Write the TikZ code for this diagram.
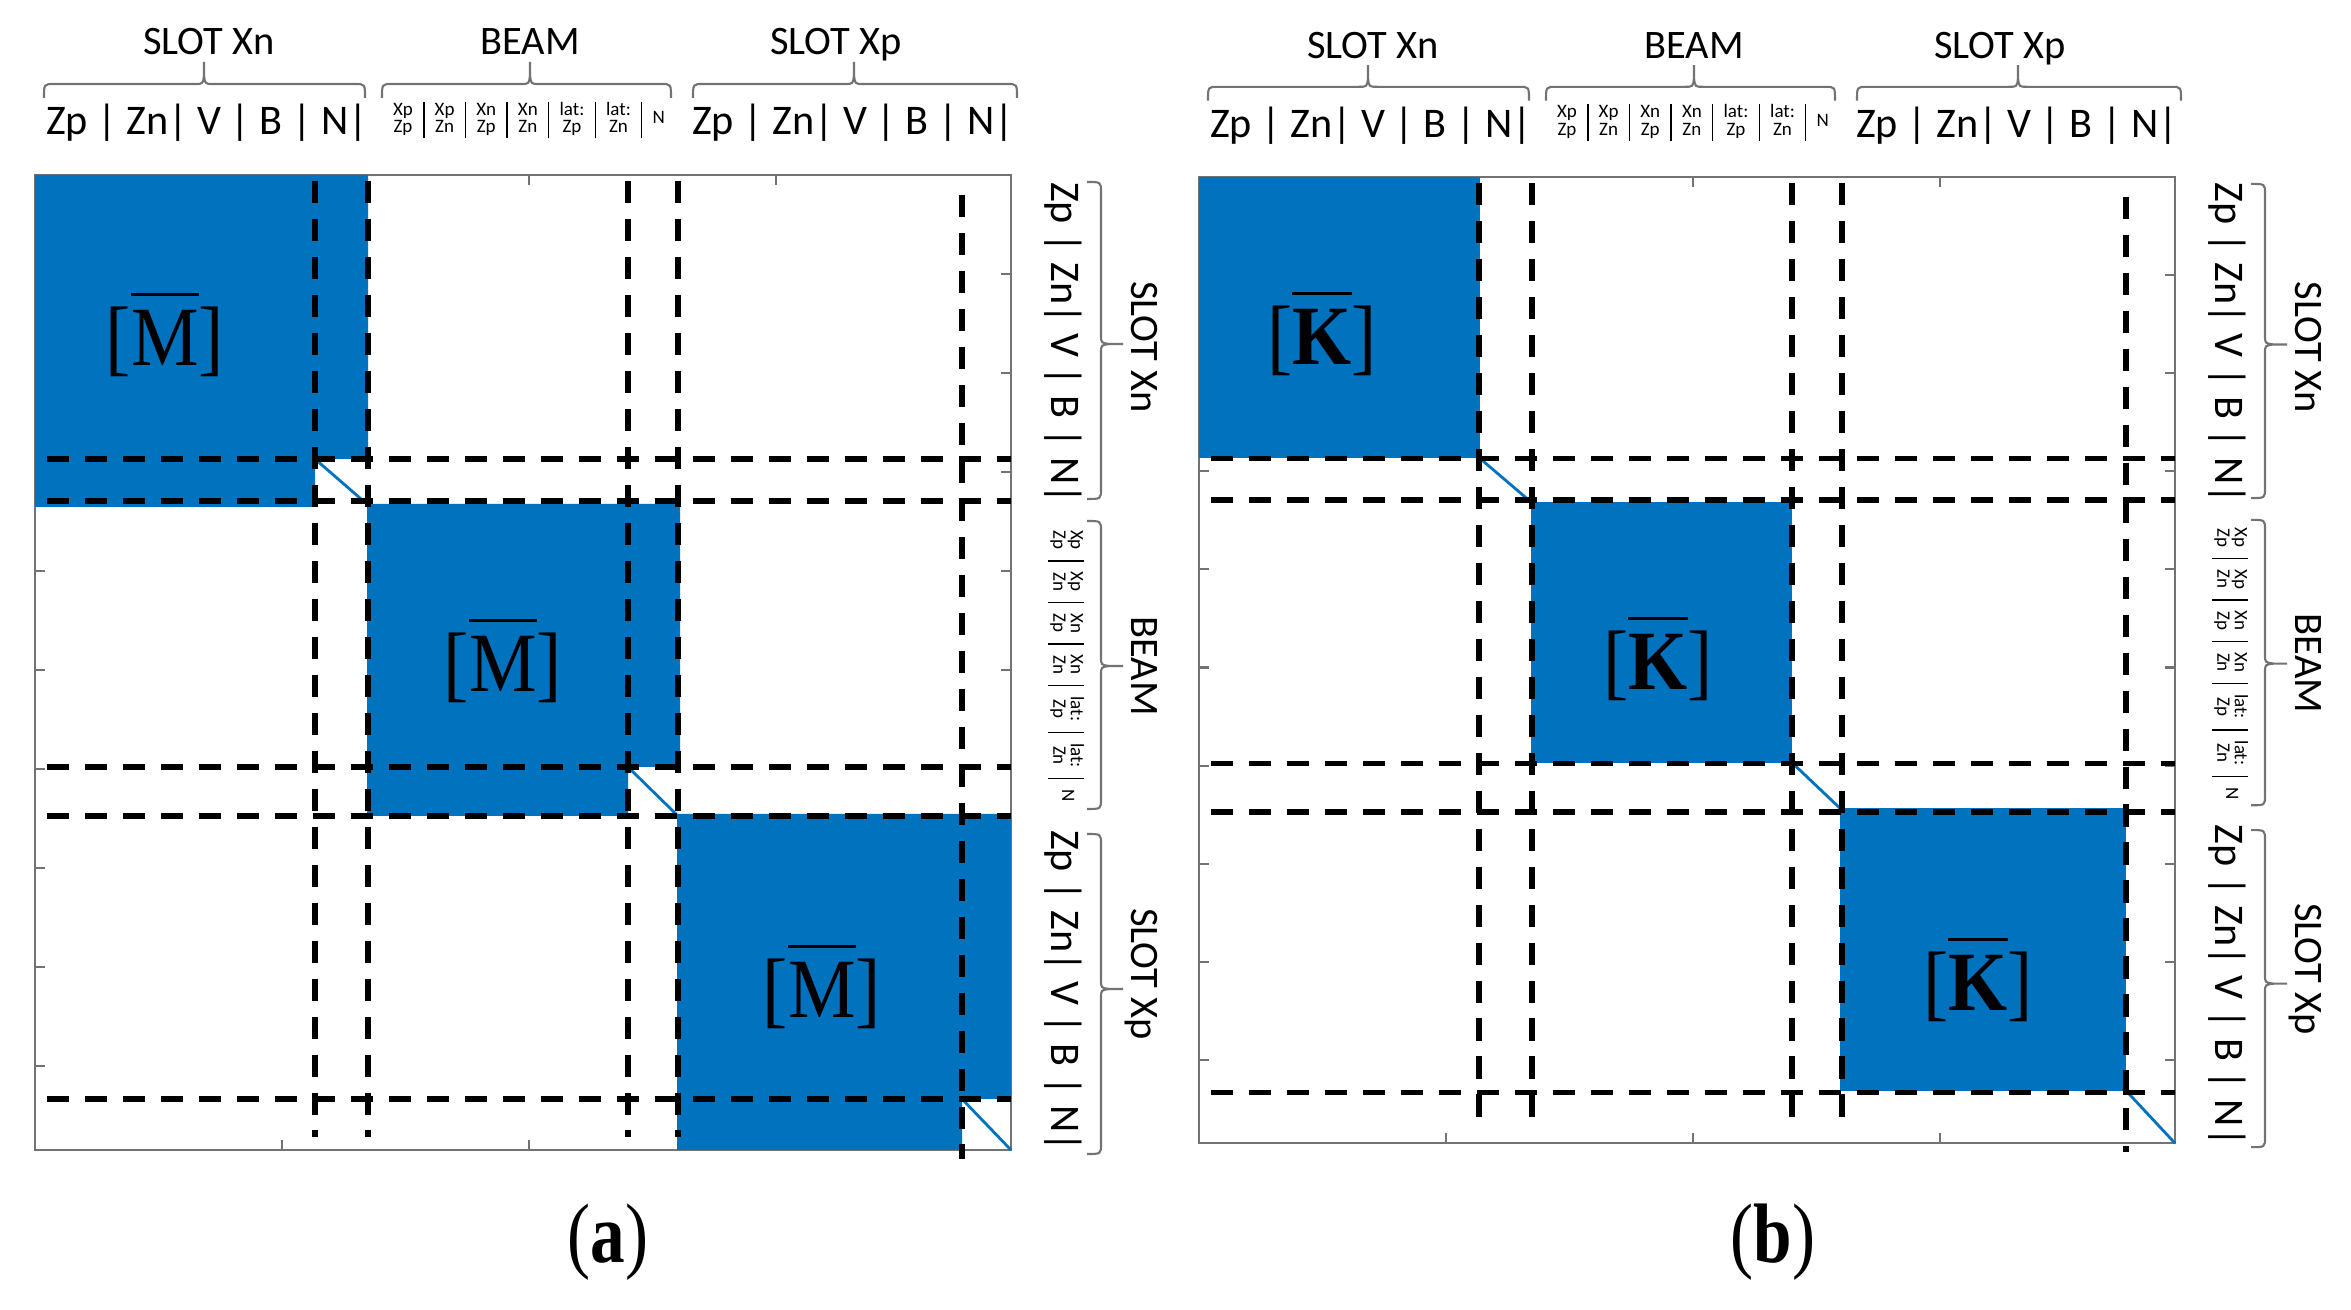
\documentclass[tikz,border=0pt]{standalone}
\usepackage{fontspec}
\setmainfont{Liberation Serif}
\newfontfamily\lab{Carlito}
\usepackage{graphicx}
\definecolor{mblue}{RGB}{0,114,190}
\newcommand\PanW{976}
\newcommand\PanH{975}
% horizontal brace: x0, x1, spike x, y
\newcommand\mytopbr[4]{%
  \draw[brc] (#1,#4+14) .. controls (#1,#4) .. (#1+10,#4) -- (#3-9,#4) .. controls (#3-1,#4) .. (#3,#4-9) -- (#3,#4-22)
    (#3,#4-9) .. controls (#3+1,#4) .. (#3+9,#4) -- (#2-10,#4) .. controls (#2,#4) .. (#2,#4+14);}
% vertical brace: y0, y1, spike y, x
\newcommand\myrightbr[4]{%
  \draw[brc] (#4-14,#1) .. controls (#4,#1) .. (#4,#1+10) -- (#4,#3-9) .. controls (#4,#3-1) .. (#4+9,#3) -- (#4+22,#3)
    (#4+9,#3) .. controls (#4,#3+1) .. (#4,#3+9) -- (#4,#2-10) .. controls (#4,#2) .. (#4-14,#2);}
\newcommand\mybeamstack{{\fontsize{5.4}{5}\selectfont\setlength\tabcolsep{3.1pt}\begin{tabular}{@{}c|c|c|c|c|c|c@{}}Xp&Xp&Xn&Xn&lat:&lat:&\raisebox{-2.5pt}[0pt][0pt]{N}\\Zp&Zn&Zp&Zn&Zp&Zn&\end{tabular}}}
\newcommand\mybar[1]{\vbox{\hrule height 0.9pt\kern 4pt\hbox{#1}}}
\newcommand\myframe{%
  \draw[frm] (0,0) rectangle (\PanW,\PanH);
  \foreach \k in {1,...,9} {\draw[tck] (\PanW,99*\k) -- (\PanW-10,99*\k); \draw[tck] (0,99*\k) -- (10,99*\k);}
  \foreach \k in {1,2,3} {\draw[tck] (247*\k,0) -- (247*\k,10); \draw[tck] (247*\k,\PanH) -- (247*\k,\PanH-10);}
}
\newcommand\mydashes{%
  \foreach \v in {280,333,593,643} {\draw[dsh] (\v,6) -- (\v,962);}
  \draw[dsh] (927,20) -- (927,984);
  \foreach \h in {284,326,592,641,924} {\draw[dsh] (12,\h) -- (\PanW,\h);}
}
\newcommand\mylabels[1]{%
  \node[ttl,anchor=base] (#1-tt1) at (174,-120) {SLOT Xn};
  \node[ttl,anchor=base] (#1-tt2) at (495,-120) {BEAM};
  \node[ttl,anchor=base] (#1-tt3) at (801,-120) {SLOT Xp};
  \node[sublab,anchor=base] (#1-ts1) at (172,-40) {Zp | Zn| V | B | N|};
  \node[beamlab] (#1-ts2) at (494,-55) {\mybeamstack};
  \node[sublab,anchor=base] (#1-ts3) at (818,-40) {Zp | Zn| V | B | N|};
  \mytopbr{9}{330}{169}{-91}
  \mytopbr{347}{636}{495}{-91}
  \mytopbr{658}{982}{819}{-91}
  \node[ttl,anchor=base,rotate=-90] (#1-rt1) at (\PanW+120,172) {SLOT Xn};
  \node[ttl,anchor=base,rotate=-90] (#1-rt2) at (\PanW+120,491) {BEAM};
  \node[ttl,anchor=base,rotate=-90] (#1-rt3) at (\PanW+120,799) {SLOT Xp};
  \node[sublab,anchor=base,rotate=-90] (#1-rs1) at (\PanW+40,168) {Zp | Zn| V | B | N|};
  \node[beamlab,rotate=-90] (#1-rs2) at (\PanW+55,491) {\mybeamstack};
  \node[sublab,anchor=base,rotate=-90] (#1-rs3) at (\PanW+40,816) {Zp | Zn| V | B | N|};
  \myrightbr{7}{324}{169}{\PanW+90}
  \myrightbr{346}{634}{491}{\PanW+90}
  \myrightbr{659}{979}{814}{\PanW+90}
}
\begin{document}
\begin{tikzpicture}[x=0.01cm,y=-0.01cm,
  frm/.style={draw=black!55, line width=0.6pt},
  tck/.style={draw=black!55, line width=0.6pt},
  blk/.style={fill=mblue},
  diag/.style={draw=mblue, line width=0.8pt},
  dsh/.style={draw=black, line width=1.6pt, dash pattern=on 6.3pt off 4.5pt},
  brc/.style={draw=black!55, line width=0.6pt},
  ttl/.style={font=\lab\fontsize{11.5}{13}\selectfont, inner sep=0pt},
  sublab/.style={font=\lab\fontsize{12}{14}\selectfont, inner sep=0pt},
  beamlab/.style={font=\lab, inner sep=0pt},
  mk/.style={font=\fontsize{24}{27}\selectfont, inner sep=0pt},
  captxt/.style={font=\fontsize{24}{28}\selectfont, inner sep=0pt}]
\useasboundingbox (0,0) rectangle (2351,1310);
\fill[white] (0,0) rectangle (2351,1310);
% ---------- panel (a)
\begin{scope}[shift={(35,175)}]
  \myframe
  \fill[blk] (0,0) -- (333,0) -- (333,284) -- (280,284) -- (280,332) -- (0,332) -- cycle;
  \fill[blk] (332,329) -- (645,329) -- (645,592) -- (593,592) -- (593,641) -- (332,641) -- cycle;
  \fill[blk] (642,639) -- (\PanW,639) -- (\PanW,924) -- (927,924) -- (927,\PanH) -- (642,\PanH) -- cycle;
  \draw[diag] (280,284) -- (333,330);
  \draw[diag] (593,592) -- (643,641);
  \draw[diag] (927,924) -- (\PanW,\PanH);
  \mydashes
  \mylabels{a}
  \node[mk] (a-m1) at (130,160) {\scalebox{0.9}[1]{[\mybar{M}]}};
  \node[mk] (a-m2) at (468,486) {\scalebox{0.9}[1]{[\mybar{M}]}};
  \node[mk] (a-m3) at (787,812) {\scalebox{0.9}[1]{[\mybar{M}]}};
\end{scope}
% ---------- panel (b)
\begin{scope}[shift={(1199,177)},yscale=0.991]
  \myframe
  \fill[blk] (0,0) rectangle (281,284);
  \fill[blk] (332,328) rectangle (593,591);
  \fill[blk] (641,637) rectangle (927,922);
  \draw[diag] (281,284) -- (332,328);
  \draw[diag] (593,591) -- (641,637);
  \draw[diag] (927,922) -- (\PanW,\PanH);
  \mydashes
  \mylabels{b}
  \node[mk] (b-m1) at (123,158) {\scalebox{0.9}[1]{[\mybar{\bfseries K}]}};
  \node[mk] (b-m2) at (459,486) {\scalebox{0.9}[1]{[\mybar{\bfseries K}]}};
  \node[mk] (b-m3) at (779,810) {\scalebox{0.9}[1]{[\mybar{\bfseries K}]}};
\end{scope}
% ---------- captions
\node[captxt] (capa) at (608,1242) {\scalebox{0.82}[1]{(\textbf{a})}};
\node[captxt] (capb) at (1773,1242) {\scalebox{0.82}[1]{(\textbf{b})}};
\end{tikzpicture}
\end{document}
